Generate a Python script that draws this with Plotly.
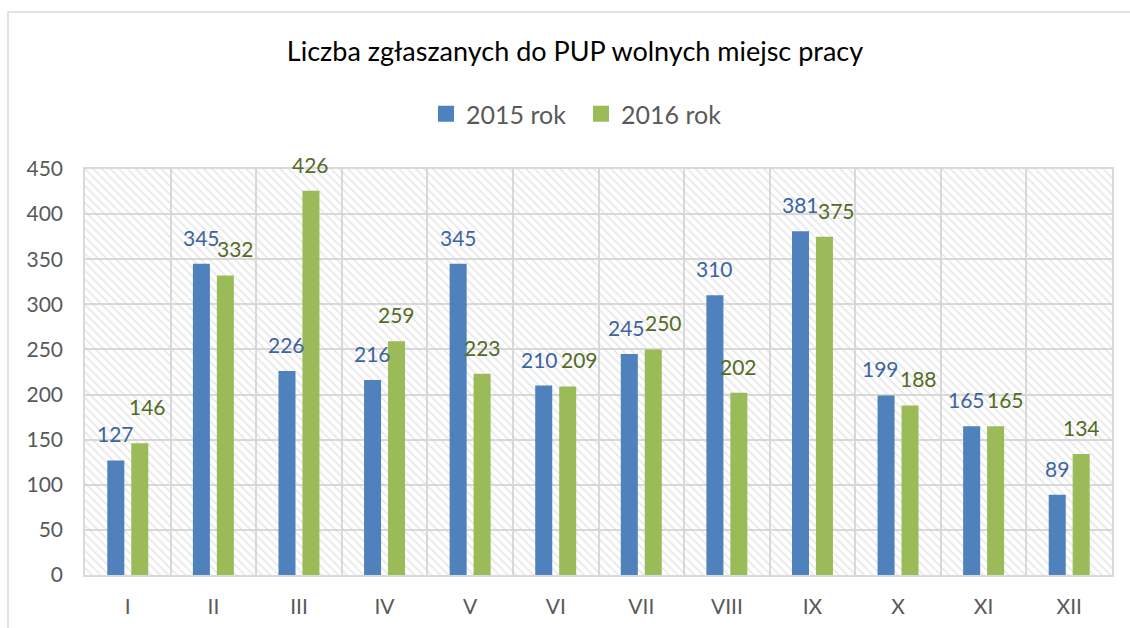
import plotly.graph_objects as go

months = ["I", "II", "III", "IV", "V", "VI", "VII", "VIII", "IX", "X", "XI", "XII"]
rok_2015 = [127, 345, 226, 216, 345, 210, 245, 310, 381, 199, 165, 89]
rok_2016 = [146, 332, 426, 259, 223, 209, 250, 202, 375, 188, 165, 134]
series_names = ["2015 rok", "2016 rok"]
y_ticks = [0, 50, 100, 150, 200, 250, 300, 350, 400, 450]

# label nudges (px) to avoid overlapping labels, as in the original
shift_2015 = [0, 0, 0, 0, 0, -4, -3, 0, 0, -6, -5, 0]
shift_2016 = [8, 10, 0, 0, 0, 12, 10, 0, 12, 8, 10, 0]
lift_2016 = [10, 0, 0, 0, 0, 0, 0, 0, 0, 0, 0, 0]

BLUE = "#4f81bd"
GREEN = "#9bbb59"
BLUE_TXT = "#3c64a0"
GREEN_TXT = "#536b25"
GRID = "#d9d9d9"
TXT = "#595959"
FONT = "Lato"

BARGAP = 0.44
GROUPGAP = 0.29
off = (1 - BARGAP) / 4

fig = go.Figure()

# hatched plot-area background (main subplot, drawn below the bars)
fig.add_trace(go.Bar(
    x=[0.5], y=[max(y_ticks)], width=[1], xaxis="x", yaxis="y",
    marker=dict(color="rgba(0,0,0,0)", line=dict(width=0),
                pattern=dict(shape="\\", fgcolor="#cfcfcf", bgcolor="rgba(0,0,0,0)",
                             size=6, solidity=0.28)),
    showlegend=False, hoverinfo="skip",
))

fig.add_trace(go.Bar(x=months, y=rok_2015, name=series_names[0], xaxis="x2", yaxis="y",
                     marker=dict(color=BLUE, line=dict(width=0)), showlegend=False))
fig.add_trace(go.Bar(x=months, y=rok_2016, name=series_names[1], xaxis="x2", yaxis="y",
                     marker=dict(color=GREEN, line=dict(width=0)), showlegend=False))

# legend entries with larger square keys
for name, col in zip(series_names, [BLUE, GREEN]):
    fig.add_trace(go.Scatter(x=[None], y=[None], name=name, mode="markers", xaxis="x2", yaxis="y",
                             marker=dict(symbol="square", size=17, color=col, line=dict(width=0)),
                             hoverinfo="skip"))

annotations = []
for i, (a, b) in enumerate(zip(rok_2015, rok_2016)):
    annotations.append(dict(x=i - off, y=a, xref="x2", yref="y", text=str(a), showarrow=False,
                            yanchor="bottom", xanchor="center", xshift=shift_2015[i], yshift=12,
                            font=dict(family=FONT, size=21, color=BLUE_TXT)))
    annotations.append(dict(x=i + off, y=b, xref="x2", yref="y", text=str(b), showarrow=False,
                            yanchor="bottom", xanchor="center", xshift=shift_2016[i],
                            yshift=12 + lift_2016[i],
                            font=dict(family=FONT, size=21, color=GREEN_TXT)))

L, R, T, B = 85, 18, 169, 53
W, H = 1130, 628
pw, ph = W - L - R, H - T - B

fig.update_layout(
    width=W, height=H,
    margin=dict(l=L, r=R, t=T, b=B, autoexpand=False),
    paper_bgcolor="white", plot_bgcolor="white",
    barmode="group", bargap=BARGAP, bargroupgap=GROUPGAP,
    font=dict(family=FONT, color=TXT),
    title=dict(text="Liczba zgłaszanych do PUP wolnych miejsc pracy",
               x=575 / W, xanchor="center", y=1 - 52 / H, yanchor="middle",
               font=dict(family=FONT, size=27, color="#000000")),
    legend=dict(orientation="h", xref="container", yref="container",
                x=581 / W, xanchor="center", y=1 - 114 / H, yanchor="middle",
                font=dict(family=FONT, size=25, color=TXT), itemwidth=30,
                entrywidth=110, entrywidthmode="pixels",
                itemsizing="trace", bgcolor="rgba(0,0,0,0)"),
    xaxis=dict(range=[0, 1], visible=False, fixedrange=True, automargin=False),
    xaxis2=dict(overlaying="x", side="bottom", type="category",
                range=[-0.5, len(months) - 0.5], automargin=False,
                tickson="boundaries", showgrid=True, gridcolor=GRID, gridwidth=1.5,
                ticks="", showline=True, linecolor=GRID, linewidth=1.5, mirror=True,
                tickfont=dict(family=FONT, size=21, color=TXT), ticklabelstandoff=12),
    yaxis=dict(range=[0, max(y_ticks)], tickvals=y_ticks, showgrid=True, gridcolor=GRID,
               gridwidth=1.5, zeroline=False, showline=True, linecolor=GRID, linewidth=1.5,
               mirror=True, ticks="", tickfont=dict(family=FONT, size=21, color=TXT),
               ticklabelstandoff=16, automargin=False),
    annotations=annotations,
    shapes=[dict(type="rect", xref="paper", yref="paper",
                 x0=(8 - L) / pw, x1=(W + 10 - L) / pw,
                 y0=(H - B - (H + 10)) / ph, y1=(H - B - 12) / ph,
                 line=dict(color=GRID, width=1.5), fillcolor="rgba(0,0,0,0)", layer="below")],
)

fig.write_html("out.html", config={"displayModeBar": False},
               post_script="document.body.style.margin='0';document.body.style.overflow='hidden';")
